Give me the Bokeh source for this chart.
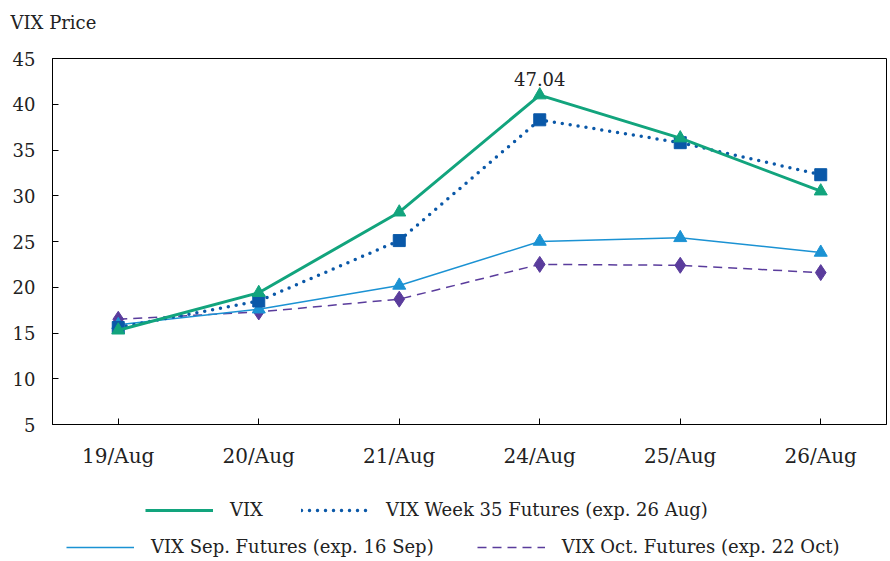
from bokeh.plotting import figure
from bokeh.layouts import column
from bokeh.models import Legend, LegendItem, FixedTicker, Title, Range1d
from bokeh.core.properties import value
from bokeh.embed import file_html
from bokeh.resources import INLINE

# ---- data ----
dates = ["19/Aug", "20/Aug", "21/Aug", "24/Aug", "25/Aug", "26/Aug"]
vix = [15.3, 19.4, 28.2, 41.0, 36.3, 30.5]
week35 = [15.6, 18.5, 25.1, 38.3, 35.8, 32.3]
sep_fut = [15.9, 17.6, 20.2, 25.0, 25.4, 23.8]
oct_fut = [16.5, 17.3, 18.7, 22.5, 22.4, 21.6]
y_ticks = [5, 10, 15, 20, 25, 30, 35, 40, 45]
peak_label = "47.04"
names = ["VIX", "VIX Week 35 Futures (exp. 26 Aug)",
         "VIX Sep. Futures (exp. 16 Sep)", "VIX Oct. Futures (exp. 22 Oct)"]
y_title = "VIX Price"

FONT = "DejaVu Serif"
GREEN = "#12a47d"
BLUE = "#0a58a8"
LBLUE = "#1b92d3"
PURPLE = "#5a3c9c"
TXT = "#222222"

styles = {
    "vix": dict(line_color=GREEN, line_width=3),
    "w35": dict(line_color=BLUE, line_width=3.5, line_dash="0 8", line_cap="round"),
    "sep": dict(line_color=LBLUE, line_width=1.5),
    "oct": dict(line_color=PURPLE, line_width=1.5, line_dash="9 6"),
}
series = {"vix": vix, "w35": week35, "sep": sep_fut, "oct": oct_fut}

xs = list(range(len(dates)))

# ---- header strip carrying the "VIX Price" caption ----
hdr = figure(width=890, height=40, output_backend="svg", toolbar_location=None,
             x_range=Range1d(0, 1), y_range=Range1d(0, 1),
             min_border_left=52, min_border_right=4, min_border_top=34,
             min_border_bottom=0, x_axis_type=None, y_axis_type=None)
hdr.xgrid.visible = False
hdr.ygrid.visible = False
hdr.outline_line_color = None
hdr.title = Title(text=y_title, align="left", offset=-42, standoff=4,
                  text_font=FONT, text_font_size="18px", text_font_style="normal",
                  text_color=TXT)

# ---- main chart ----
p = figure(width=890, height=430, output_backend="svg", toolbar_location=None,
           x_range=Range1d(-0.468, 5.468), y_range=Range1d(5, 45),
           min_border_left=52, min_border_right=4, min_border_top=18,
           min_border_bottom=44)

p.xgrid.visible = False
p.ygrid.visible = False
p.outline_line_color = "black"
p.outline_line_width = 1

for ax in (p.xaxis[0], p.yaxis[0]):
    ax.axis_line_color = "black"
    ax.major_tick_line_color = "black"
    ax.major_tick_in = 6
    ax.major_tick_out = 0
    ax.minor_tick_line_color = None
    ax.major_label_text_font = FONT
    ax.major_label_text_font_size = "18px"
    ax.major_label_text_color = TXT

p.yaxis[0].ticker = FixedTicker(ticks=y_ticks)
p.yaxis[0].major_label_standoff = 17
p.xaxis[0].ticker = FixedTicker(ticks=xs)
p.xaxis[0].major_label_overrides = {i: d for i, d in enumerate(dates)}
p.xaxis[0].major_label_standoff = 19
p.xaxis[0].major_label_text_font_size = "20px"

p.line(xs, oct_fut, **styles["oct"])
p.scatter(xs, oct_fut, marker="diamond", size=16, fill_color=PURPLE, line_color=PURPLE)

p.line(xs, sep_fut, **styles["sep"])
p.scatter(xs, sep_fut, marker="triangle", size=13, fill_color=LBLUE, line_color=LBLUE)

p.line(xs, week35, **styles["w35"])
p.scatter(xs, week35, marker="square", size=12, fill_color=BLUE, line_color=BLUE)

p.line(xs, vix, **styles["vix"])
p.scatter(xs, vix, marker="triangle", size=13, fill_color=GREEN, line_color=GREEN)

p.text(x=[xs[3]], y=[vix[3]], text=[peak_label], y_offset=-9,
       text_align="center", text_baseline="bottom",
       text_font=value(FONT), text_font_size="18px", text_color=TXT)

# ---- legend strip (separate figure below the chart) ----
# proxy renderers carry the line styles; their data lie outside this strip's range
lf = figure(width=890, height=91, output_backend="svg", toolbar_location=None,
            x_range=Range1d(-100, -99), y_range=Range1d(-100, -99),
            min_border=0, x_axis_type=None, y_axis_type=None)
lf.xgrid.visible = False
lf.ygrid.visible = False
lf.outline_line_color = None

leg_r = {k: lf.line(xs, series[k], **st) for k, st in styles.items()}

rows = [
    ([(names[0], leg_r["vix"]), (names[1], leg_r["w35"])], (93, 41), 68, 38),
    ([(names[2], leg_r["sep"]), (names[3], leg_r["oct"])], (14, 4), 68, 43),
]
for items, loc, gw, sp in rows:
    lg = Legend(items=[LegendItem(label=l, renderers=[r]) for l, r in items],
                location=loc, orientation="horizontal", padding=0, margin=0,
                spacing=sp, glyph_width=gw, glyph_height=20, label_height=20,
                label_standoff=17, label_text_font=FONT, label_text_font_size="18px",
                label_text_color=TXT, border_line_alpha=0, background_fill_alpha=0)
    lf.add_layout(lg, "center")

layout = column(hdr, p, lf, spacing=0)
open("out.html", "w").write(file_html(layout, INLINE))
